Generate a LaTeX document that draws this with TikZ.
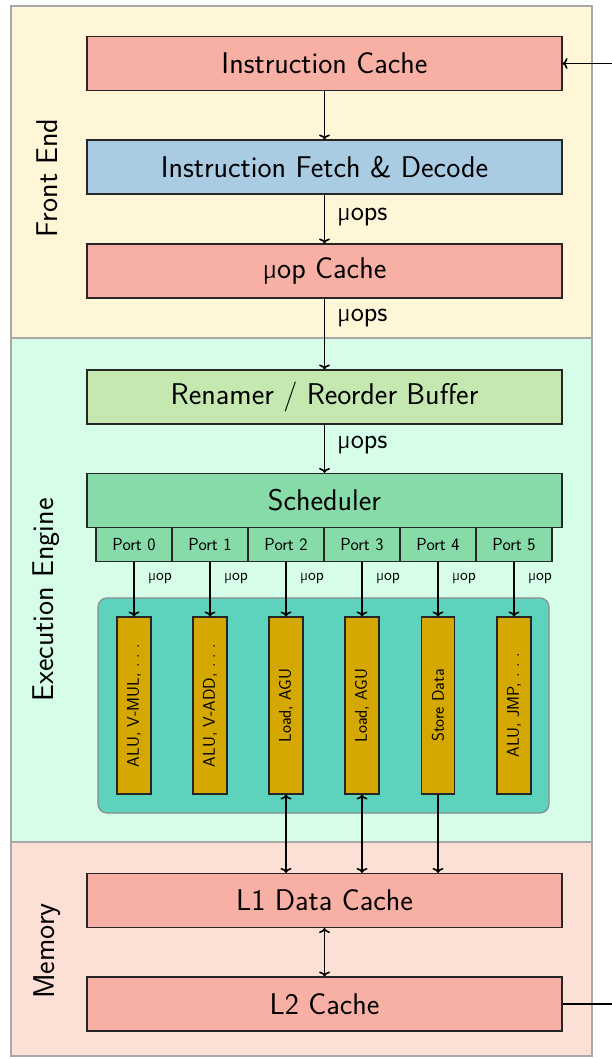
\documentclass[tikz,border=0pt]{standalone}
\usepackage{fontspec}
\usetikzlibrary{arrows.meta}
\definecolor{frontBg}{HTML}{FFF5D7}
\definecolor{execBg}{HTML}{D5FDE8}
\definecolor{memBg}{HTML}{FCDFD5}
\definecolor{cacheFill}{HTML}{F8B0A5}
\definecolor{fetchFill}{HTML}{A9CCE3}
\definecolor{renFill}{HTML}{C5E8B0}
\definecolor{schedFill}{HTML}{87DBA8}
\definecolor{innerFill}{HTML}{5DD3BE}
\definecolor{unitFill}{HTML}{D4A800}
\definecolor{bandLine}{HTML}{A8A8A8}
\tikzset{
  band/.style={draw=bandLine, line width=1.2pt},
  bigbox/.style={draw=black!85, line width=1.1pt, minimum width=475pt, minimum height=54pt,
    inner sep=0pt, font=\sffamily\fontsize{30}{32}\selectfont},
  portbox/.style={draw=black!85, line width=1.1pt, fill=schedFill, minimum width=76pt,
    minimum height=34pt, inner sep=0pt, font=\sffamily\fontsize{17.5}{19}\selectfont},
  unitbox/.style={draw=black!85, line width=1.1pt, fill=unitFill, rotate=90, minimum width=177pt,
    inner xsep=0pt, inner ysep=10pt, font=\sffamily\fontsize{17}{19}\selectfont},
  bandlabel/.style={rotate=90, font=\sffamily\fontsize{30}{32}\selectfont},
  flow/.style={line width=1.6pt, -{To[length=5pt,width=11pt]}},
  bflow/.style={line width=1.6pt, {To[length=5pt,width=11pt]}-{To[length=5pt,width=11pt]}},
  plain/.style={line width=1.6pt},
  uoplabel/.style={anchor=west, font=\sffamily\fontsize{28}{30}\selectfont, inner sep=0pt},
  smalllabel/.style={font=\sffamily\fontsize{16.5}{18}\selectfont, inner sep=0pt}
}
\begin{document}
\begin{tikzpicture}[x=1pt, y=-1pt]
\useasboundingbox (0,0) rectangle (612,1059);
% bands
\fill[frontBg] (11,6) rectangle (592,338);
\fill[execBg] (11,338) rectangle (592,842);
\fill[memBg] (11,842) rectangle (592,1056);
\draw[band] (11,6) rectangle (592,1056);
\draw[band] (11,338) -- (592,338);
\draw[band] (11,842) -- (592,842);
\node[bandlabel] (lfe) at (47,178) {Front End};
\node[bandlabel] (lee) at (46,600) {Execution Engine};
\node[bandlabel] (lme) at (47,951) {Memory};
% main boxes
\node[bigbox, fill=cacheFill] (ic) at (324.5,63.5) {Instruction Cache};
\node[bigbox, fill=fetchFill] (fd) at (324.5,167) {Instruction Fetch \& Decode};
\node[bigbox, fill=cacheFill] (uc) at (324.5,271) {µop Cache};
\node[bigbox, fill=renFill] (rn) at (324.5,397) {Renamer / Reorder Buffer};
\node[bigbox, fill=schedFill] (sc) at (324.5,500.5) {Scheduler};
\node[bigbox, fill=cacheFill] (l1) at (324.5,900.5) {L1 Data Cache};
\node[bigbox, fill=cacheFill] (l2) at (324.5,1004) {L2 Cache};
% ports
\foreach \i/\x in {0/134,1/210,2/286,3/362,4/438,5/514}{
  \node[portbox] (p\i) at (\x,544.5) {Port \i};
}
% inner box
\draw[draw=black!45, line width=1.2pt, fill=innerFill, rounded corners=9pt] (98,598) rectangle (549,813);
% units
\node[unitbox] (u0) at (134,705.5) {ALU, V-MUL, .\ .\ .};
\node[unitbox] (u1) at (210,705.5) {ALU, V-ADD, .\ .\ .};
\node[unitbox] (u2) at (286,705.5) {Load, AGU};
\node[unitbox] (u3) at (362,705.5) {Load, AGU};
\node[unitbox] (u4) at (438,705.5) {Store Data};
\node[unitbox] (u5) at (514,705.5) {ALU, JMP, .\ .\ .};
% port arrows
\foreach \i in {0,...,5}{
  \draw[flow] (p\i.south) -- (u\i.east);
  \path (p\i.south) ++(26,16) node[smalllabel] (m\i) {µop};
}
% front-end arrows
\coordinate (icin) at (612,63.5);
\draw[flow] (icin) -- (ic.east);
\draw[flow] (ic.south) -- (fd.north);
\draw[flow] (fd.south) -- (uc.north);
\draw[flow] (uc.south) -- (rn.north);
\draw[flow] (rn.south) -- (sc.north);
\node[uoplabel] (lb1) at (337,217) {µops};
\node[uoplabel] (lb2) at (337,318) {µops};
\node[uoplabel] (lb3) at (337,445) {µops};
% memory arrows
\draw[bflow] (u2.west) -- (u2.west |- l1.north);
\draw[bflow] (u3.west) -- (u3.west |- l1.north);
\draw[flow] (u4.west) -- (u4.west |- l1.north);
\draw[bflow] (l1.south) -- (l2.north);
\coordinate (l2out) at (612,1004);
\draw[plain] (l2.east) -- (l2out);
\end{tikzpicture}
\end{document}
